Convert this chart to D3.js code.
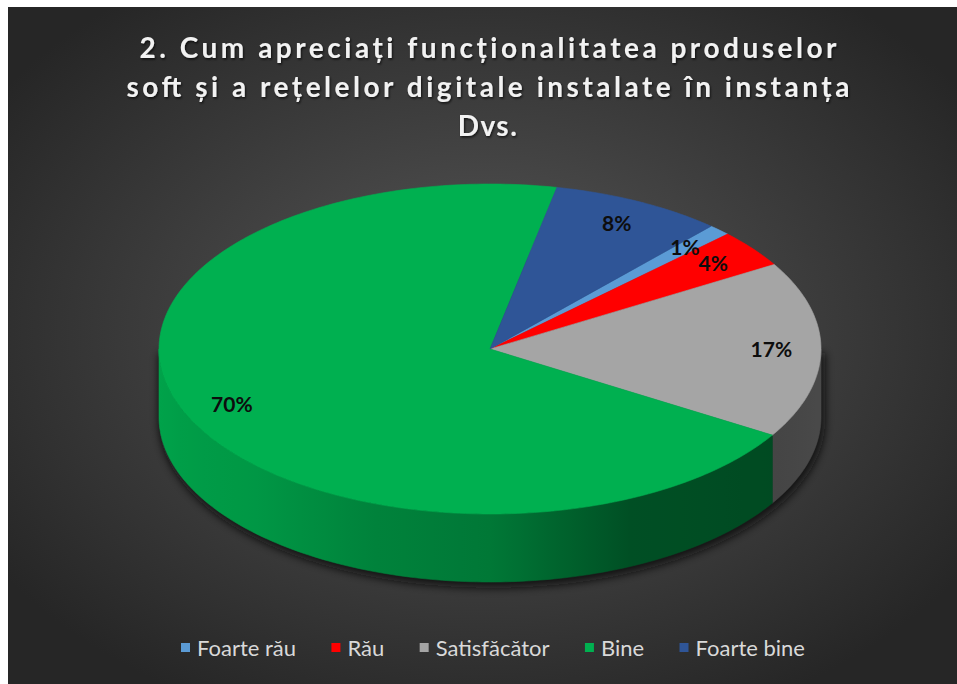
<!DOCTYPE html>
<html>
<head>
<meta charset="utf-8">
<script src="https://cdn.jsdelivr.net/npm/d3@7"></script>
<style>
  html, body { margin: 0; padding: 0; background: #fff; }
  svg { display: block; }
</style>
</head>
<body>
<div id="chart"></div>
<script>
// date
const categories = ['Foarte rău', 'Rău', 'Satisfăcător', 'Bine', 'Foarte bine']
const values = [1.1, 3.7, 17.3, 69.5, 8.4]
const colors = ['#5b9bd5', '#ff0000', '#a5a5a5', '#00b050', '#2f5597']
const titleLines = [
  '2. Cum apreciați funcționalitatea produselor',
  'soft și a rețelelor digitale instalate în instanța',
  'Dvs.'
]

const width = 957
const height = 684
const cx = 490
const cy = 349
const rx = 331
const ry = 165
const depth = 68
const startDeg = 41.9

const svg = d3.select('#chart').append('svg')
  .attr('width', width)
  .attr('height', height)
const defs = svg.append('defs')

// fundal cu gradient radial
const bg = defs.append('radialGradient').attr('id', 'bg')
  .attr('cx', '50%').attr('cy', '48%').attr('r', '62%')
bg.append('stop').attr('offset', '0%').attr('stop-color', '#585858')
bg.append('stop').attr('offset', '100%').attr('stop-color', '#262626')

svg.append('rect').attr('width', width).attr('height', height).attr('fill', '#fff')
svg.append('rect')
  .attr('x', 8).attr('y', 7)
  .attr('width', width - 8).attr('height', height - 7)
  .attr('fill', 'url(#bg)')

// umbre
const ts = defs.append('filter').attr('id', 'textShadow')
  .attr('x', '-5%').attr('y', '-20%').attr('width', '110%').attr('height', '150%')
ts.append('feDropShadow')
  .attr('dx', 1).attr('dy', 1.5).attr('stdDeviation', 1.2)
  .attr('flood-color', '#000').attr('flood-opacity', 0.7)
const blur = defs.append('filter').attr('id', 'pieShadow')
  .attr('x', '-10%').attr('y', '-10%').attr('width', '120%').attr('height', '130%')
blur.append('feGaussianBlur').attr('stdDeviation', 4)

// titlu
const title = svg.append('g')
  .attr('font-family', 'Lato, "Open Sans", sans-serif')
  .attr('font-weight', 'bold')
  .attr('font-size', 28)
  .attr('fill', '#f2f2f2')
  .attr('text-anchor', 'middle')
  .attr('filter', 'url(#textShadow)')
const titleWidths = [697, 723, null]
titleLines.forEach((t, i) => {
  const tx = title.append('text')
    .attr('x', 488)
    .attr('y', 58 + i * 39)
    .text(t)
  if (titleWidths[i]) {
    tx.attr('textLength', titleWidths[i]).attr('lengthAdjust', 'spacing')
  } else {
    tx.attr('letter-spacing', 1.5)
  }
})

// layout
const pie = d3.pie().sort(null).value(d => d)
  .startAngle(startDeg * Math.PI / 180)
  .endAngle(startDeg * Math.PI / 180 + 2 * Math.PI)
const arcs = pie(values)
const total = d3.sum(values)

const px = d3.scaleLinear().domain([-1, 1]).range([cx - rx, cx + rx])
const py = d3.scaleLinear().domain([-1, 1]).range([cy - ry, cy + ry])

function arcPts (a0, a1, yOff) {
  const n = Math.max(2, Math.ceil(Math.abs(a1 - a0) / (Math.PI / 180)))
  return d3.range(n + 1).map(i => {
    const a = a0 + (a1 - a0) * i / n
    return [px(Math.sin(a)), py(-Math.cos(a)) + yOff]
  })
}
const line = d3.line()

// umbra de sub placinta
const sh = svg.append('g').attr('filter', 'url(#pieShadow)')
  .attr('fill', '#0d0d0d').attr('opacity', 0.85)
  .attr('transform', 'translate(2,4)')
sh.append('ellipse').attr('cx', cx).attr('cy', cy + depth).attr('rx', rx + 2).attr('ry', ry + 2)
sh.append('rect').attr('x', cx - rx - 2).attr('y', cy).attr('width', 2 * rx + 4).attr('height', depth)

// gradient pentru peretele lateral, dupa unghi
const shade = d3.scaleLinear()
  .domain([270, 225, 200, 180, 155, 120, 90])
  .range([0.93, 0.86, 0.74, 0.68, 0.45, 0.42, 0.45])
const stopAngles = d3.range(90, 271, 5)
colors.forEach((c, i) => {
  const g = defs.append('linearGradient').attr('id', 'side' + i)
    .attr('gradientUnits', 'userSpaceOnUse')
    .attr('x1', cx - rx).attr('x2', cx + rx).attr('y1', 0).attr('y2', 0)
  const base = d3.rgb(c)
  stopAngles.slice().reverse().forEach(deg => {
    const a = deg * Math.PI / 180
    const f = shade(deg)
    g.append('stop')
      .attr('offset', (1 + Math.sin(a)) / 2)
      .attr('stop-color', d3.rgb(base.r * f, base.g * f, base.b * f).formatHex())
  })
})

// pereti laterali (doar jumatatea din fata)
const front = [Math.PI / 2, 3 * Math.PI / 2]
const sides = svg.append('g')
arcs.forEach((d, i) => {
  const s = Math.max(d.startAngle, front[0])
  const e = Math.min(d.endAngle, front[1])
  if (e <= s) return
  const pts = arcPts(s, e, 0).concat(arcPts(e, s, depth))
  sides.append('path')
    .attr('d', line(pts) + 'Z')
    .attr('fill', 'url(#side' + i + ')')
    .attr('stroke', 'url(#side' + i + ')')
    .attr('stroke-width', 0.6)
})

// fata de sus
const topFaces = svg.append('g')
arcs.forEach((d, i) => {
  const pts = [[cx, cy]].concat(arcPts(d.startAngle, d.endAngle, 0))
  topFaces.append('path')
    .attr('d', line(pts) + 'Z')
    .attr('fill', colors[i])
    .attr('stroke', colors[i])
    .attr('stroke-width', 0.6)
})

// etichete procente
svg.append('g')
  .attr('font-family', 'Lato, "Open Sans", sans-serif')
  .attr('font-weight', 'bold')
  .attr('font-size', 21)
  .attr('fill', '#0d0d0d')
  .attr('text-anchor', 'middle')
  .selectAll('text')
  .data(arcs)
  .join('text')
  .attr('x', d => px(0.85 * Math.sin((d.startAngle + d.endAngle) / 2)))
  .attr('y', d => py(-0.85 * Math.cos((d.startAngle + d.endAngle) / 2)))
  .attr('dy', '0.35em')
  .text(d => Math.round(d.value / total * 100) + '%')

// legenda
const legend = svg.append('g')
  .attr('font-family', 'Lato, "Open Sans", sans-serif')
  .attr('font-size', 22)
  .attr('fill', '#d9d9d9')
const items = legend.selectAll('g').data(categories).join('g')
items.append('rect')
  .attr('width', 9).attr('height', 9)
  .attr('y', -5)
  .attr('fill', (d, i) => colors[i])
items.append('text')
  .attr('x', 16)
  .attr('y', 0)
  .attr('dy', '0.35em')
  .text(d => d)
const itemW = []
items.each(function () { itemW.push(16 + this.querySelector('text').getComputedTextLength()) })
const legendLeft = 181
const legendRight = 805
const gap = (legendRight - legendLeft - d3.sum(itemW)) / (categories.length - 1)
let lx = legendLeft
items.each(function (d, i) {
  d3.select(this).attr('transform', `translate(${lx},648)`)
  lx += itemW[i] + gap
})
</script>
</body>
</html>
